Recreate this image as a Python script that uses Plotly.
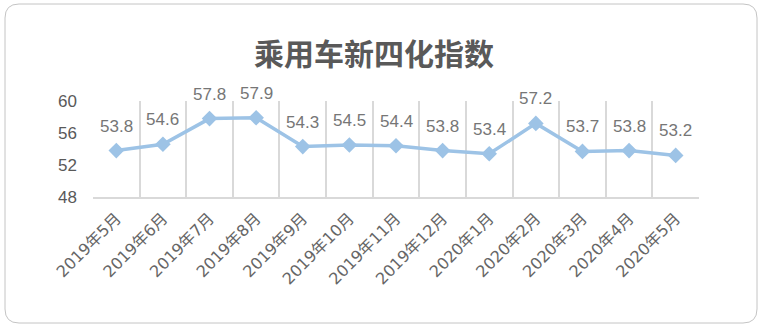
import plotly.graph_objects as go

categories = ["2019年5月", "2019年6月", "2019年7月", "2019年8月", "2019年9月", "2019年10月",
              "2019年11月", "2019年12月", "2020年1月", "2020年2月", "2020年3月", "2020年4月", "2020年5月"]
values = [53.8, 54.6, 57.8, 57.9, 54.3, 54.5, 54.4, 53.8, 53.4, 57.2, 53.7, 53.8, 53.2]
y_ticks = [48, 52, 56, 60]
title_text = "乘用车新四化指数"

W, H = 762, 328
ml, mr, mt, mb = 93, 63, 101, 131
pw, ph = W - ml - mr, H - mt - mb

FONT = "Liberation Sans, Arial, Noto Sans CJK SC, sans-serif"

fig = go.Figure()
fig.add_trace(go.Scatter(
    x=categories, y=values, mode="lines+markers",
    line=dict(color="#9dc3e6", width=3.5),
    marker=dict(symbol="diamond", size=12, color="#9dc3e6"),
    cliponaxis=False, showlegend=False,
))

annotations = [dict(x=c, y=v, text=f"{v:.1f}", showarrow=False, xref="x", yref="y",
                    yanchor="bottom", yshift=13,
                    font=dict(size=17, color="#767676", family=FONT))
               for c, v in zip(categories, values)]

# rounded border in pixel -> paper coordinates
def px(x):
    return (x - ml) / pw

def py(y):
    return 1 - (y - mt) / ph

x0, y0, x1, y1, r = 5, 4, 757, 323, 14
path = (f"M {px(x0 + r)},{py(y0)} L {px(x1 - r)},{py(y0)} Q {px(x1)},{py(y0)} {px(x1)},{py(y0 + r)} "
        f"L {px(x1)},{py(y1 - r)} Q {px(x1)},{py(y1)} {px(x1 - r)},{py(y1)} "
        f"L {px(x0 + r)},{py(y1)} Q {px(x0)},{py(y1)} {px(x0)},{py(y1 - r)} "
        f"L {px(x0)},{py(y0 + r)} Q {px(x0)},{py(y0)} {px(x0 + r)},{py(y0)} Z")

fig.update_layout(
    width=W, height=H, margin=dict(l=ml, r=mr, t=mt, b=mb),
    paper_bgcolor="white", plot_bgcolor="white",
    title=dict(text=f"<b>{title_text}</b>", x=374 / W, xref="container", xanchor="center",
               y=1 - 54 / H, yanchor="middle",
               font=dict(size=30, color="#595959", family="Noto Sans CJK SC, sans-serif")),
    annotations=annotations,
    shapes=[dict(type="path", path=path, xref="paper", yref="paper",
                 line=dict(color="#c4c4c4", width=1), layer="below")],
    xaxis=dict(type="category", tickson="boundaries", showgrid=True, gridcolor="#d9d9d9", gridwidth=1.5,
               showline=True, linecolor="#d9d9d9", linewidth=1.5, mirror=False,
               ticks="", tickangle=-45, ticklabelstandoff=4,
               tickfont=dict(size=16, color="#666666", family="DejaVu Sans, Noto Sans CJK SC, sans-serif"),
               range=[-0.5, len(categories) - 0.5]),
    yaxis=dict(range=[48, 60], tickvals=y_ticks, showgrid=False, zeroline=False,
               showline=False, ticks="", ticklabelstandoff=15,
               tickfont=dict(size=17, color="#595959", family=FONT)),
)

fig.write_html("out.html")
